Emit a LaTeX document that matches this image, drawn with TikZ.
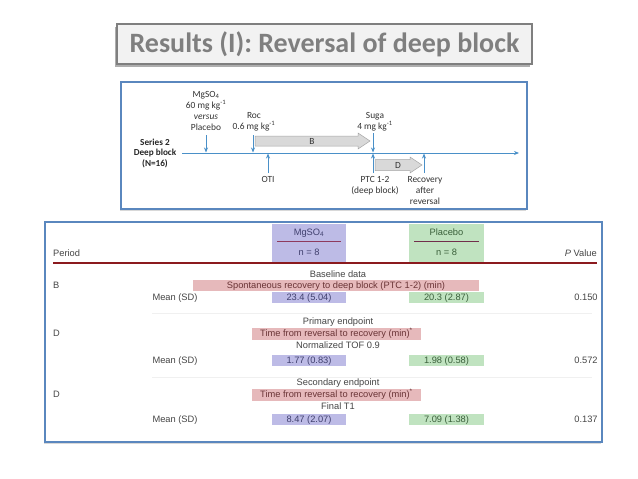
\documentclass[tikz,border=0pt]{standalone}
\usepackage{fontspec}
\setmainfont{Carlito}
\newfontfamily\tabfont{Liberation Sans}
\usetikzlibrary{arrows.meta,shadows,calc}
\definecolor{ttlgray}{HTML}{7F7F7F}
\definecolor{ttlfill}{HTML}{F2F2F2}
\definecolor{frameblue}{HTML}{5A87BE}
\definecolor{arrblue}{HTML}{4A90C8}
\definecolor{tlgray}{HTML}{333333}
\definecolor{fatfill}{HTML}{D9D9D9}
\definecolor{fatdraw}{HTML}{A6A6A6}
\definecolor{mgfill}{HTML}{BDBBE6}
\definecolor{plfill}{HTML}{C0E3C0}
\definecolor{pkfill}{HTML}{E6B9BB}
\definecolor{darkred}{HTML}{8B1A1E}
\definecolor{ulcol}{HTML}{8E3A5E}
\definecolor{txtgray}{HTML}{454545}
\definecolor{mgtxt}{HTML}{40406E}
\definecolor{pltxt}{HTML}{3A603A}
\definecolor{pktxt}{HTML}{6A3436}
\begin{document}
\begin{tikzpicture}[x=1pt,y=-1pt,
  titlebox/.style={draw=ttlgray,line width=1.6pt,fill=ttlfill,text=ttlgray,
    font=\fontsize{28}{30}\selectfont\bfseries,minimum width=415pt,minimum height=40pt,
    inner sep=0pt,drop shadow={shadow xshift=-2pt,shadow yshift=-2.5pt,opacity=0.45,fill=black!70}},
  framebox/.style={draw=frameblue,line width=2.6pt,fill=white,inner sep=0pt,
    drop shadow={shadow xshift=-1.5pt,shadow yshift=-2pt,opacity=0.3}},
  tllabel/.style={text=tlgray,font=\fontsize{9.4}{11}\selectfont,align=center,inner sep=0pt},
  serieslabel/.style={text=black!85,font=\fontsize{9.2}{10.5}\selectfont\bfseries,align=center,inner sep=0pt},
  tlarrow/.style={draw=arrblue,line width=0.9pt,-{Stealth[length=5pt,width=4pt]}},
  fatarrow/.style={draw=fatdraw,fill=fatfill,line width=0.5pt},
  fatlabel/.style={text=tlgray,font=\fontsize{9.4}{10}\selectfont,inner sep=0pt},
  tabtext/.style={text=txtgray,font=\tabfont\fontsize{9.3}{11}\selectfont,inner sep=0pt,
    text height=6.8pt,text depth=1.8pt},
  colbox/.style={draw=none,inner sep=0pt},
  sepline/.style={draw=black!6,line width=0.5pt}
]
\useasboundingbox[fill=white] (0,0) rectangle (638,479);

% title
\node[titlebox] (title) at (324.5,44) {Results (I): Reversal of deep block};

% frames
\node[framebox,minimum width=406pt,minimum height=127pt] (frameA) at (324,145.5) {};
\node[framebox,minimum width=557pt,minimum height=220pt] (frameB) at (323.5,332) {};

% ---------- timeline ----------
\coordinate (axL) at (182,153);
\coordinate (axR) at (519,153);
\draw[tlarrow] (axL) -- (axR);

\node[serieslabel] (series) at (155,153) {Series 2\\Deep block\\(N=16)};

% fat arrows
\draw[fatarrow] (255,136) -- (358,136) -- (358,133) -- (370,141) -- (358,149) -- (358,146) -- (255,146) -- cycle;
\node[fatlabel] (Blab) at (312,141) {B};
\draw[fatarrow] (375,159.5) -- (410,159.5) -- (410,157) -- (422,165) -- (410,173) -- (410,170.5) -- (375,170.5) -- cycle;
\node[fatlabel] (Dlab) at (398,165) {D};

% labels above
\node[tllabel,anchor=south] (mglab) at (206,131) {MgSO\textsubscript{4}\\60 mg kg\textsuperscript{-1}\\\textit{versus}\\Placebo};
\node[tllabel,anchor=south] (roclab) at (254,131) {Roc\\0.6 mg kg\textsuperscript{-1}};
\node[tllabel,anchor=south] (sugalab) at (375,131) {Suga\\4 mg kg\textsuperscript{-1}};

% labels below
\node[tllabel,anchor=north] (otilab) at (268,176) {OTI};
\node[tllabel,anchor=north] (ptclab) at (375,176) {PTC 1-2\\(deep block)};
\node[tllabel,anchor=north] (reclab) at (425,176) {Recovery\\after\\reversal};

% vertical arrows
\coordinate (mgA) at (206,135);  \coordinate (mgB) at (206,152.5);
\coordinate (rocA) at (253,135); \coordinate (rocB) at (253,152.5);
\coordinate (sugA) at (373,133); \coordinate (sugB) at (373,152.5);
\coordinate (otiA) at (268,173); \coordinate (otiB) at (268,153.5);
\coordinate (ptcA) at (373,173); \coordinate (ptcB) at (373,153.5);
\coordinate (recA) at (424,173); \coordinate (recB) at (424,153.5);
\draw[tlarrow] (mgA) -- (mgB);
\draw[tlarrow] (rocA) -- (rocB);
\draw[tlarrow] (sugA) -- (sugB);
\draw[tlarrow] (otiA) -- (otiB);
\draw[tlarrow] (ptcA) -- (ptcB);
\draw[tlarrow] (recA) -- (recB);

% ---------- table ----------
\fill[mgfill] (272,224) rectangle (346,262);
\fill[plfill] (409,224) rectangle (484,262);
\node[tabtext,text=mgtxt] (hMg) at (309,233) {MgSO\textsubscript{4}};
\node[tabtext,text=pltxt] (hPl) at (446.5,233) {Placebo};
\draw[ulcol,line width=0.8pt] (277,241) -- (341,241);
\draw[ulcol!80!black,line width=0.8pt] (414,241) -- (479,241);
\node[tabtext,text=mgtxt] (nMg) at (309,253) {n = 8};
\node[tabtext,text=pltxt] (nPl) at (446.5,253) {n = 8};
\node[tabtext,anchor=west] (period) at (53,254) {Period};
\node[tabtext,anchor=east] (pval) at (597,254) {\textit{P} Value};
\draw[darkred,line width=1.8pt] (53,263) -- (597,263);

% separators
\draw[sepline] (152,313) -- (592,313);
\draw[sepline] (152,377) -- (592,377);

% row 1
\node[tabtext] (base) at (338,275) {Baseline data};
\node[colbox,fill=pkfill,minimum width=286pt,minimum height=11pt] (pk1) at (336,285.5) {};
\node[tabtext,text=pktxt] (pk1t) at (pk1) {Spontaneous recovery to deep block (PTC 1-2) (min)};
\node[tabtext,anchor=west] (B) at (53,286) {B};
\node[tabtext] (m1) at (175,297.5) {Mean (SD)};
\node[colbox,fill=mgfill,minimum width=74pt,minimum height=11pt] (v1a) at (309,297.5) {};
\node[tabtext,text=mgtxt] (v1at) at (v1a) {23.4 (5.04)};
\node[colbox,fill=plfill,minimum width=75pt,minimum height=11pt] (v1b) at (446.5,297.5) {};
\node[tabtext,text=pltxt] (v1bt) at (v1b) {20.3 (2.87)};
\node[tabtext] (p1) at (586,297.5) {0.150};

% row 2
\node[tabtext] (prim) at (338,322) {Primary endpoint};
\node[colbox,fill=pkfill,minimum width=169pt,minimum height=12pt] (pk2) at (336.5,334) {};
\node[tabtext,text=pktxt] (pk2t) at (pk2) {Time from reversal to recovery (min)\textsuperscript{*}};
\node[tabtext,anchor=west] (D1) at (53,334) {D};
\node[tabtext] (tof) at (338,346) {Normalized TOF 0.9};
\node[tabtext] (m2) at (175,360.5) {Mean (SD)};
\node[colbox,fill=mgfill,minimum width=74pt,minimum height=11pt] (v2a) at (309,360.5) {};
\node[tabtext,text=mgtxt] (v2at) at (v2a) {1.77 (0.83)};
\node[colbox,fill=plfill,minimum width=75pt,minimum height=11pt] (v2b) at (446.5,360.5) {};
\node[tabtext,text=pltxt] (v2bt) at (v2b) {1.98 (0.58)};
\node[tabtext] (p2) at (586,360.5) {0.572};

% row 3
\node[tabtext] (sec) at (338,383) {Secondary endpoint};
\node[colbox,fill=pkfill,minimum width=169pt,minimum height=12pt] (pk3) at (336.5,395) {};
\node[tabtext,text=pktxt] (pk3t) at (pk3) {Time from reversal to recovery (min)\textsuperscript{*}};
\node[tabtext,anchor=west] (D2) at (53,395) {D};
\node[tabtext] (ft1) at (338,407) {Final T1};
\node[tabtext] (m3) at (175,419.5) {Mean (SD)};
\node[colbox,fill=mgfill,minimum width=74pt,minimum height=11pt] (v3a) at (309,419.5) {};
\node[tabtext,text=mgtxt] (v3at) at (v3a) {8.47 (2.07)};
\node[colbox,fill=plfill,minimum width=75pt,minimum height=11pt] (v3b) at (446.5,419.5) {};
\node[tabtext,text=pltxt] (v3bt) at (v3b) {7.09 (1.38)};
\node[tabtext] (p3) at (586,419.5) {0.137};
\end{tikzpicture}
\end{document}
